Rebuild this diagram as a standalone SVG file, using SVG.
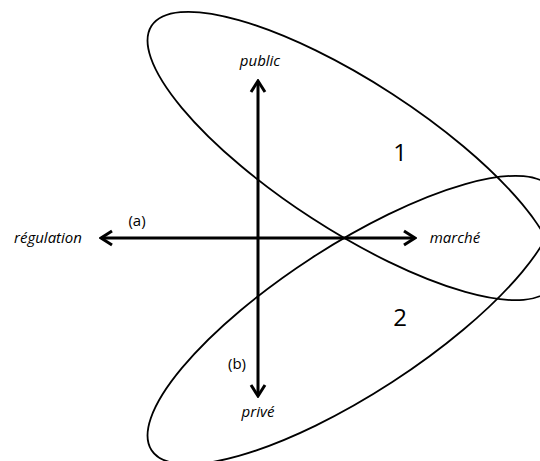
<svg xmlns="http://www.w3.org/2000/svg" width="540" height="461" viewBox="0 0 540 461">
<style>
.ell{fill:none;stroke:#000;stroke-width:1.8}
.ax{fill:none;stroke:#000;stroke-width:3}
.lbl{font-family:"Open Sans","Liberation Sans",sans-serif;font-size:15px;font-style:italic;fill:#000;text-anchor:middle}
.sm{font-family:"Open Sans","Liberation Sans",sans-serif;font-size:15px;fill:#000;text-anchor:middle}
.num{font-family:"Open Sans","Liberation Sans",sans-serif;font-size:24px;fill:#000;text-anchor:middle}
</style>
<defs>
<marker id="chev" markerUnits="userSpaceOnUse" viewBox="-14 -10 16 20" refX="0" refY="0" markerWidth="16" markerHeight="20" orient="auto-start-reverse">
<path d="M-11,-7 L0,0 L-11,7" fill="none" stroke="#000" stroke-width="3"/>
</marker>
</defs>
<rect width="540" height="461" fill="#fff"/>
<g id="zone1"><ellipse class="ell" cx="352" cy="156" rx="239" ry="74" transform="rotate(33 352 156)"/><text class="num" x="400" y="161">1</text></g>
<g id="zone2"><ellipse class="ell" cx="352" cy="320" rx="239" ry="74" transform="rotate(-33 352 320)"/><text class="num" x="400" y="326">2</text></g>
<g id="connectors">
<line class="ax" x1="101" y1="238" x2="415" y2="238" marker-start="url(#chev)" marker-end="url(#chev)"/>
<line class="ax" x1="258" y1="81" x2="258" y2="396" marker-start="url(#chev)" marker-end="url(#chev)"/>
</g>
<g id="regulation"><text class="lbl" x="48" y="243">régulation</text></g>
<g id="marche"><text class="lbl" x="455" y="243">marché</text></g>
<g id="public"><text class="lbl" x="260" y="66">public</text></g>
<g id="prive"><text class="lbl" x="258" y="417">privé</text></g>
<g id="a"><text class="sm" x="137" y="226">(a)</text></g>
<g id="b"><text class="sm" x="237" y="369">(b)</text></g>
</svg>
